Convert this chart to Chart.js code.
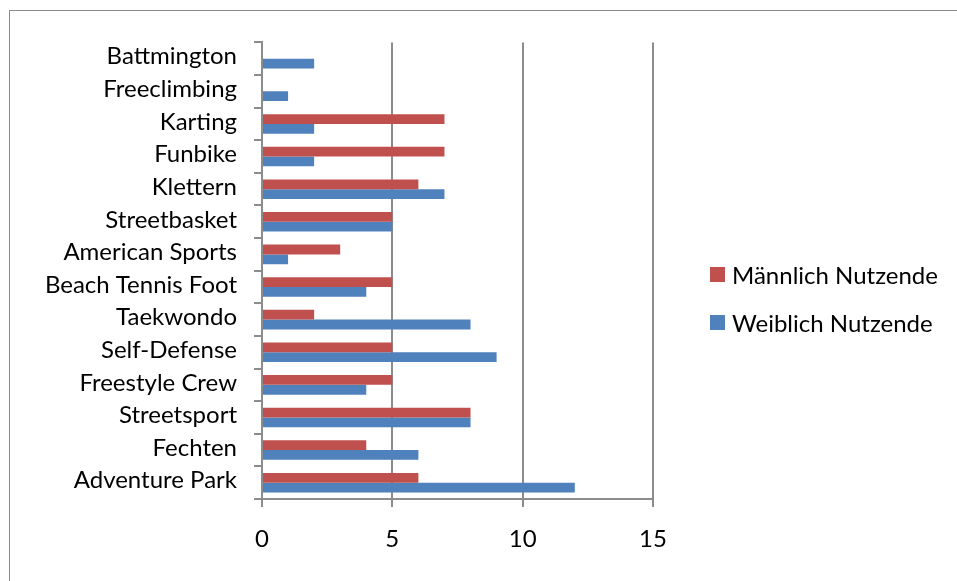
<!DOCTYPE html>
<html>
<head>
<meta charset="utf-8">
<script src="https://cdn.jsdelivr.net/npm/chart.js@4"></script>
<style>
  html, body { margin: 0; padding: 0; background: #fff; overflow: hidden; }
  #frame { position: absolute; left: 9px; top: 10px; border-left: 1px solid #8c8c8c; border-top: 1px solid #8c8c8c; }
  #box { position: relative; width: 947px; height: 570px; }
  #legend { position: absolute; left: 700px; top: 249px; margin: 0; padding: 0; list-style: none;
            font-family: Lato, sans-serif; font-size: 24px; color: #000; }
  #legend li { display: flex; align-items: center; height: 28px; margin-bottom: 20px; white-space: nowrap; }
  #legend span { display: inline-block; width: 15px; height: 15px; margin-right: 7px; }
</style>
</head>
<body>
<div id="frame"><div id="box"><canvas id="sportChart"></canvas><ul id="legend"></ul></div></div>
<script>
const categories = ['Battmington', 'Freeclimbing', 'Karting', 'Funbike', 'Klettern', 'Streetbasket',
  'American Sports', 'Beach Tennis Foot', 'Taekwondo', 'Self-Defense', 'Freestyle Crew',
  'Streetsport', 'Fechten', 'Adventure Park'];
const maleUsers   = [0, 0, 7, 7, 6, 5, 3, 5, 2, 5, 5, 8, 4, 6];
const femaleUsers = [2, 1, 2, 2, 7, 5, 1, 4, 8, 9, 4, 8, 6, 12];
const seriesNames = ['Männlich Nutzende', 'Weiblich Nutzende'];
const xTicks = [0, 5, 10, 15];

const FONT = { family: 'Lato', size: 24 };
const GRID = '#8c8c8c';

// html legend, filled from the chart's own legend items
const htmlLegend = {
  id: 'htmlLegend',
  afterUpdate(chart) {
    const ul = document.getElementById('legend');
    ul.innerHTML = '';
    chart.options.plugins.legend.labels.generateLabels(chart).forEach(item => {
      const li = document.createElement('li');
      const box = document.createElement('span');
      box.style.background = item.fillStyle;
      li.appendChild(box);
      li.appendChild(document.createTextNode(item.text));
      ul.appendChild(li);
    });
  }
};

const ctx = document.getElementById('sportChart').getContext('2d');
new Chart(ctx, {
  type: 'bar',
  data: {
    labels: categories,
    datasets: [
      { label: seriesNames[0], data: maleUsers, backgroundColor: '#C0504D' },
      { label: seriesNames[1], data: femaleUsers, backgroundColor: '#4F81BD' }
    ]
  },
  options: {
    indexAxis: 'y',
    responsive: true,
    maintainAspectRatio: false,
    animation: false,
    categoryPercentage: 0.6,
    barPercentage: 1.0,
    layout: { padding: { top: 28, bottom: 23, left: 0, right: 304 } },
    scales: {
      x: {
        min: xTicks[0],
        max: xTicks[xTicks.length - 1],
        afterBuildTicks: s => { s.ticks = xTicks.map(v => ({ value: v })); },
        afterFit: s => { s.height = 59; },
        grid: { color: GRID, lineWidth: 2, tickLength: 8 },
        border: { color: GRID, width: 2 },
        ticks: { color: '#000', font: FONT, padding: 18 }
      },
      y: {
        afterFit: s => { s.width = 252; },
        grid: { color: GRID, lineWidth: 2, drawOnChartArea: false, tickLength: 8, offset: true },
        border: { color: GRID, width: 2 },
        ticks: { color: '#000', font: FONT, padding: 17, labelOffset: -2, autoSkip: false }
      }
    },
    plugins: {
      legend: { display: false },
      tooltip: { enabled: false }
    }
  },
  plugins: [htmlLegend]
});
</script>
</body>
</html>
